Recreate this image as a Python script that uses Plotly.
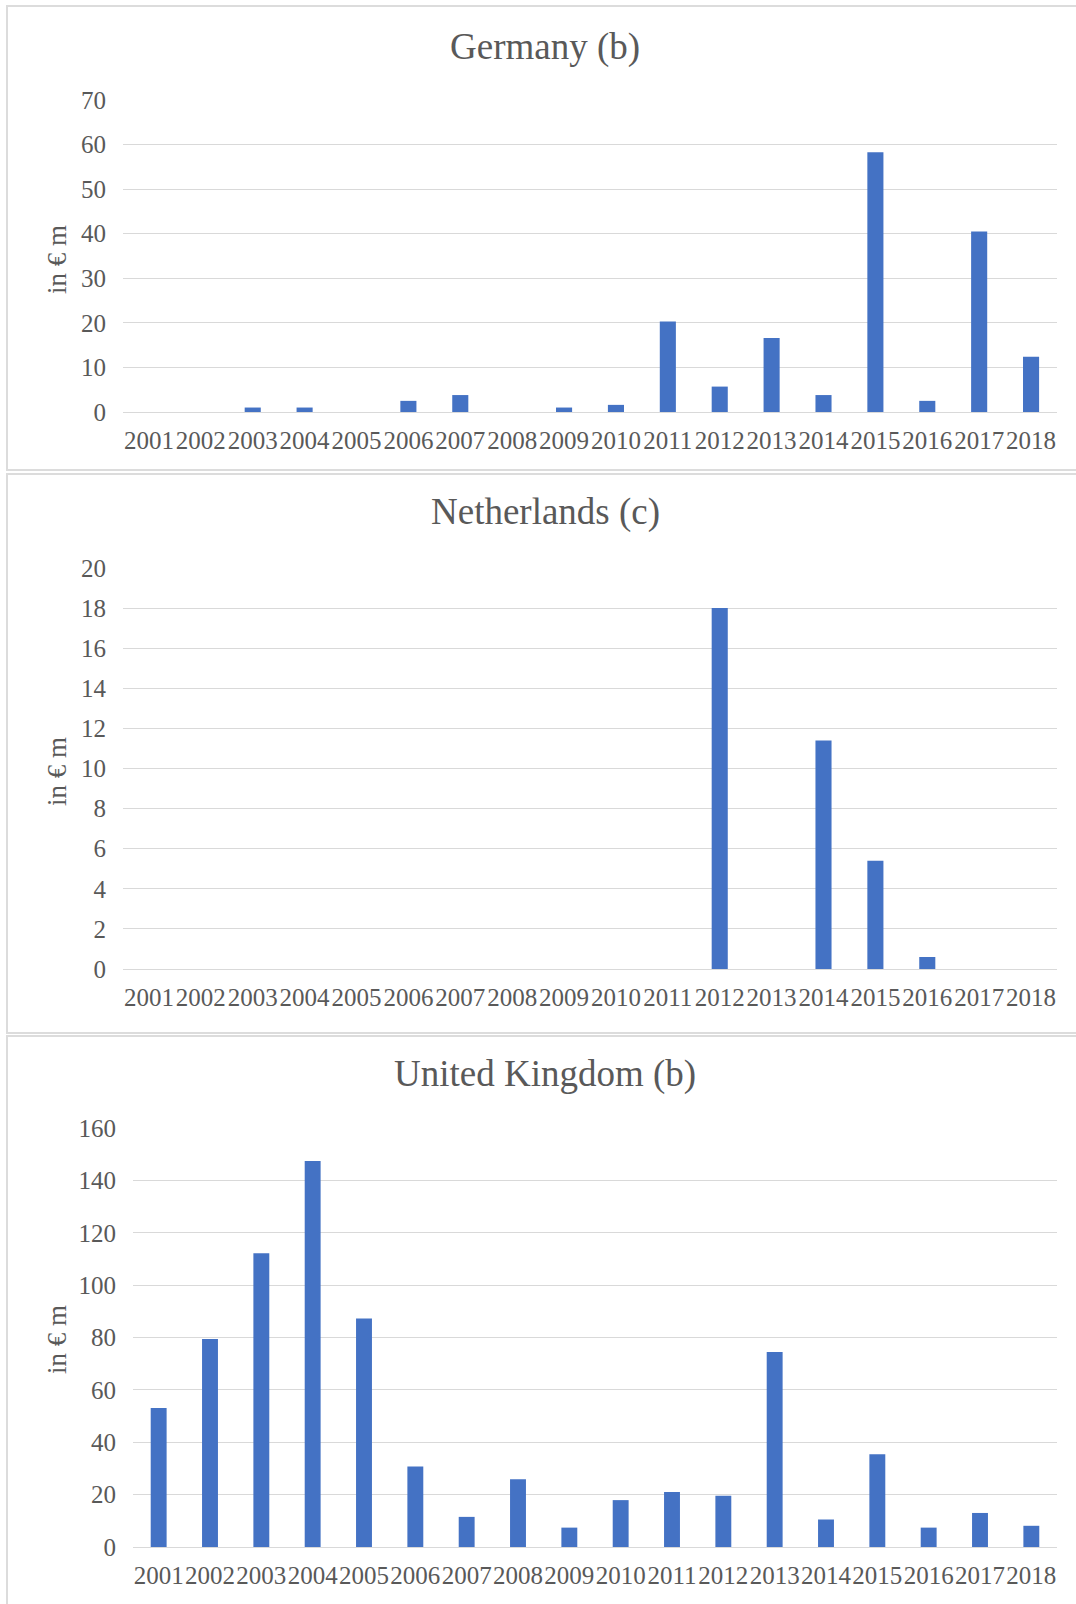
import plotly.graph_objects as go

# Annual amounts in € m, 2001-2018
years = [str(y) for y in range(2001, 2019)]

germany = [0, 0, 1.0, 1.0, 0, 2.5, 3.8, 0, 1.0, 1.6,
           20.3, 5.7, 16.6, 3.8, 58.3, 2.5, 40.5, 12.4]
netherlands = [0, 0, 0, 0, 0, 0, 0, 0, 0, 0,
               0, 18.0, 0, 11.4, 5.4, 0.6, 0, 0]
united_kingdom = [53.1, 79.4, 112.2, 147.4, 87.3, 30.7, 11.5, 25.9, 7.4, 17.9,
                  21.0, 19.6, 74.5, 10.5, 35.4, 7.4, 13.0, 8.1]

panel_titles = ["Germany (b)", "Netherlands (c)", "United Kingdom (b)"]
y_title = "in € m"
y_ranges = [(0, 70, 10), (0, 20, 2), (0, 160, 20)]

W, H = 1076, 1604
FONT = "Liberation Serif, Times New Roman, serif"
TXT = "#595959"
GRID = "#d9d9d9"
BAR = "#4472C4"
BORDER = "#dcdcdc"


def px_x(v):
    return v / W


def px_y(v):
    return 1 - v / H


# plot areas in pixels: (left, right, top, bottom)
areas = [(123, 1057, 100, 412), (123, 1057, 568, 969), (133, 1057, 1128, 1547)]
title_y = [47, 512, 1074]
ytitle_y = [260, 772, 1340]
boxes = [(7, 6, 1090, 470), (7, 474, 1090, 1033), (7, 1036, 1090, 1620)]

series = [germany, netherlands, united_kingdom]

fig = go.Figure()
layout = dict(
    width=W, height=H,
    margin=dict(l=0, r=0, t=0, b=0, pad=0, autoexpand=False),
    paper_bgcolor="white", plot_bgcolor="white", showlegend=False,
    font=dict(family=FONT, color=TXT), bargap=0.69,
)

annotations = []
shapes = []
for i, (vals, (l, r, t, b)) in enumerate(zip(series, areas)):
    n = "" if i == 0 else str(i + 1)
    fig.add_trace(go.Bar(x=years, y=vals, marker=dict(color=BAR, line=dict(width=0)),
                         xaxis="x" + n, yaxis="y" + n))
    lo, hi, step = y_ranges[i]
    layout["xaxis" + n] = dict(
        domain=[px_x(l), px_x(r)], anchor="y" + n, type="category",
        tickmode="array", tickvals=years, ticktext=years, tickangle=0,
        showgrid=False, showline=True, linecolor=GRID, linewidth=1,
        ticks="", tickfont=dict(size=25, color=TXT, family=FONT),
        ticklabelstandoff=6, automargin=False, fixedrange=True,
    )
    layout["yaxis" + n] = dict(
        domain=[px_y(b), px_y(t)], anchor="x" + n, range=[lo, hi],
        tickmode="linear", tick0=lo, dtick=step,
        showgrid=True, gridcolor=GRID, gridwidth=1, zeroline=False,
        showline=False, ticks="", tickfont=dict(size=25, color=TXT, family=FONT),
        ticklabelstandoff=16, automargin=False, fixedrange=True,
    )
    annotations.append(dict(
        text=panel_titles[i], x=px_x(545), y=px_y(title_y[i]),
        xref="paper", yref="paper", xanchor="center", yanchor="middle",
        showarrow=False, font=dict(size=37, color=TXT, family=FONT)))
    annotations.append(dict(
        text=y_title, x=px_x(57), y=px_y(ytitle_y[i]), textangle=-90,
        xref="paper", yref="paper", xanchor="center", yanchor="middle",
        showarrow=False, font=dict(size=27, color=TXT, family=FONT)))
    x0, y0, x1, y1 = boxes[i]
    shapes.append(dict(type="rect", xref="paper", yref="paper",
                       x0=px_x(x0), x1=px_x(x1), y0=px_y(y0), y1=px_y(y1),
                       line=dict(color=BORDER, width=2), layer="below"))

layout["annotations"] = annotations
layout["shapes"] = shapes
fig.update_layout(**layout)

fig.write_html("out.html")
